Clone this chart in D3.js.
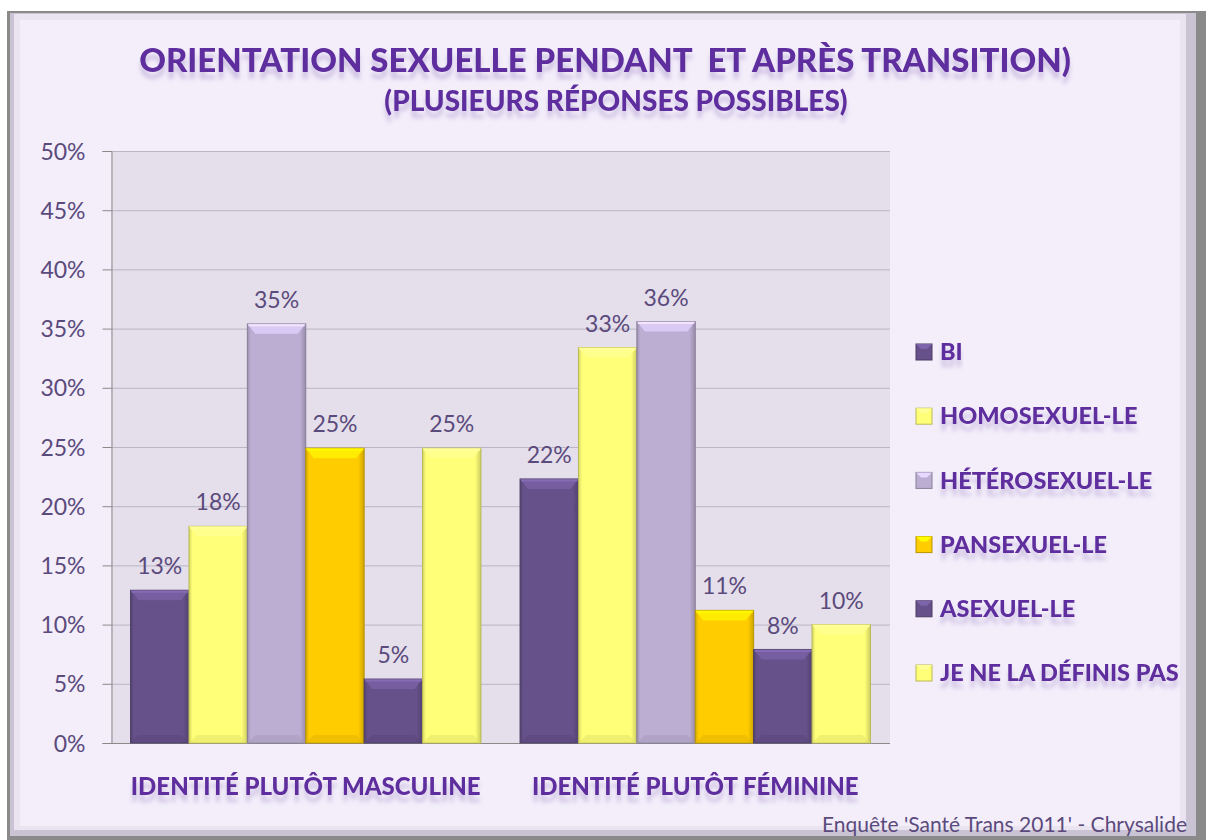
<!DOCTYPE html>
<html>
<head>
<meta charset="utf-8">
<script src="https://cdn.jsdelivr.net/npm/d3@7"></script>
<style>
  body { margin: 0; background: #fff; }
  svg { display: block; }
  text { white-space: pre; }
</style>
</head>
<body>
<div id="chart"></div>
<script>
// Data
const categories = ['IDENTITÉ PLUTÔT MASCULINE', 'IDENTITÉ PLUTÔT FÉMININE'];
const seriesNames = ['BI', 'HOMOSEXUEL-LE', 'HÉTÉROSEXUEL-LE', 'PANSEXUEL-LE', 'ASEXUEL-LE', 'JE NE LA DÉFINIS PAS'];
const seriesColors = ['#66518a', '#ffff78', '#bcaed3', '#ffcc00', '#66518a', '#ffff78'];
const biValues = [12.9, 22.3];
const homoValues = [18.3, 33.4];
const heteroValues = [35.4, 35.6];
const panValues = [24.9, 11.2];
const asexValues = [5.4, 7.9];
const nonDefValues = [24.9, 10.0];
const yTicks = [0, 5, 10, 15, 20, 25, 30, 35, 40, 45, 50];

const series = [biValues, homoValues, heteroValues, panValues, asexValues, nonDefValues];

const W = 1209, H = 840;
const plot = { left: 111, right: 890, top: 151, bottom: 743 };
const purple = '#5f2d9e';
const labelColor = '#5b4a7c';
const fontFam = 'Lato, "Open Sans", sans-serif';

const svg = d3.select('#chart').append('svg')
  .attr('width', W).attr('height', H);

const defs = svg.append('defs');

// soft reflection-like shadow for the bold texts
const refl = defs.append('filter').attr('id', 'refl')
  .attr('x', '-5%').attr('y', '-20%').attr('width', '110%').attr('height', '180%');
refl.append('feGaussianBlur').attr('in', 'SourceAlpha').attr('stdDeviation', 2.2).attr('result', 'b');
refl.append('feOffset').attr('in', 'b').attr('dy', 7).attr('result', 'o');
refl.append('feFlood').attr('flood-color', '#8d6fb8').attr('flood-opacity', 0.35);
refl.append('feComposite').attr('in2', 'o').attr('operator', 'in').attr('result', 's');
const m = refl.append('feMerge');
m.append('feMergeNode').attr('in', 's');
m.append('feMergeNode').attr('in', 'SourceGraphic');

// frame
svg.append('rect').attr('x', 0).attr('y', 0).attr('width', W).attr('height', H).attr('fill', '#ffffff');
svg.append('rect').attr('x', 7).attr('y', 11).attr('width', 1199).attr('height', 829)
  .attr('fill', '#8a8a8a');
svg.append('rect').attr('x', 10).attr('y', 13).attr('width', 1186).attr('height', 823)
  .attr('fill', '#c9c3d3');
svg.append('rect').attr('x', 14).attr('y', 14).attr('width', 1172).attr('height', 816)
  .attr('fill', '#e9e4f0');
svg.append('rect').attr('x', 20).attr('y', 20).attr('width', 1160).attr('height', 806)
  .attr('fill', '#f3eefa');

// scales
const x0 = d3.scaleBand().domain(categories).range([plot.left, plot.right]).padding(0);
const x1 = d3.scaleBand().domain(seriesNames).range([0, x0.bandwidth()])
  .paddingInner(0).paddingOuter(0.335);
const y = d3.scaleLinear().domain([0, 50]).range([plot.bottom, plot.top]);

// plot area
svg.append('rect')
  .attr('x', plot.left).attr('y', plot.top)
  .attr('width', plot.right - plot.left).attr('height', plot.bottom - plot.top)
  .attr('fill', '#e4dfeb');

// grid
svg.append('g').selectAll('line').data(yTicks.filter(d => d > 0)).join('line')
  .attr('x1', plot.left).attr('x2', plot.right)
  .attr('y1', d => y(d) + 0.5).attr('y2', d => y(d) + 0.5)
  .attr('stroke', '#bbb5c5').attr('stroke-width', 1);

// y axis
const yAxis = svg.append('g')
  .attr('transform', `translate(${plot.left + 0.5},0)`)
  .call(d3.axisLeft(y).tickValues(yTicks).tickSize(9).tickPadding(17).tickFormat(d => d + '%'));
yAxis.select('.domain').attr('stroke', '#8a8a8a');
yAxis.selectAll('.tick line').attr('stroke', '#8a8a8a');
yAxis.selectAll('.tick text')
  .attr('fill', labelColor).attr('font-family', fontFam)
  .attr('font-size', 23).attr('dy', '0.35em');

// x baseline
svg.append('line')
  .attr('x1', plot.left).attr('x2', plot.right)
  .attr('y1', plot.bottom + 0.5).attr('y2', plot.bottom + 0.5)
  .attr('stroke', '#8a8a8a');

// bar gradients per colour
function shade(c, k) { return d3.color(c).darker(k).formatHex(); }
function tint(c, k) { return d3.color(c).brighter(k).formatHex(); }
seriesColors.forEach((c, i) => {
  const g = defs.append('linearGradient').attr('id', 'bg' + i)
    .attr('x1', '0').attr('x2', '1').attr('y1', '0').attr('y2', '0');
  g.append('stop').attr('offset', '0%').attr('stop-color', shade(c, 0.5));
  g.append('stop').attr('offset', '6%').attr('stop-color', c);
  g.append('stop').attr('offset', '90%').attr('stop-color', c);
  g.append('stop').attr('offset', '100%').attr('stop-color', shade(c, 0.6));
});

const bars = svg.append('g');
categories.forEach((cat, ci) => {
  series.forEach((vals, si) => {
    const v = vals[ci];
    const bx = x0(cat) + x1(seriesNames[si]);
    const bw = x1.bandwidth();
    const by = y(v);
    const bh = plot.bottom - by;
    const c = seriesColors[si];
    const g = bars.append('g');
    g.append('rect').attr('x', bx).attr('y', by).attr('width', bw).attr('height', bh)
      .attr('fill', `url(#bg${si})`)
      .attr('stroke', shade(c, 0.9)).attr('stroke-width', 1);
    // top bevel
    const bev = Math.min(10, bh / 2);
    g.append('path')
      .attr('d', `M${bx},${by}L${bx + bw},${by}L${bx + bw - 8},${by + bev}L${bx + 8},${by + bev}Z`)
      .attr('fill', tint(c, 0.45)).attr('opacity', 0.9);
    g.append('rect').attr('x', bx + 1).attr('y', by + 0.5).attr('width', bw - 2).attr('height', 2)
      .attr('fill', tint(c, 0.9)).attr('opacity', 0.7);
    // bottom bevel
    g.append('path')
      .attr('d', `M${bx},${plot.bottom}L${bx + bw},${plot.bottom}L${bx + bw - 8},${plot.bottom - 8}L${bx + 8},${plot.bottom - 8}Z`)
      .attr('fill', shade(c, 0.35)).attr('opacity', 0.55);
    // value label
    bars.append('text')
      .attr('x', bx + bw / 2).attr('y', by - 24)
      .attr('text-anchor', 'middle').attr('dy', '0.35em')
      .attr('fill', labelColor).attr('font-family', fontFam).attr('font-size', 23)
      .text(Math.round(v) + '%');
  });
});

// category labels
svg.append('g').selectAll('text').data(categories).join('text')
  .attr('x', d => x0(d) + x0.bandwidth() / 2)
  .attr('y', 795)
  .attr('text-anchor', 'middle')
  .attr('fill', purple).attr('font-family', fontFam).attr('font-weight', 900)
  .attr('font-size', 24).attr('filter', 'url(#refl)')
  .text(d => d);

// title
svg.append('text').attr('x', 605).attr('y', 72).attr('text-anchor', 'middle')
  .attr('fill', purple).attr('font-family', fontFam).attr('font-weight', 900)
  .attr('font-size', 33).attr('filter', 'url(#refl)')
  .text('ORIENTATION SEXUELLE PENDANT  ET APRÈS TRANSITION)');
svg.append('text').attr('x', 616).attr('y', 111).attr('text-anchor', 'middle')
  .attr('fill', purple).attr('font-family', fontFam).attr('font-weight', 900)
  .attr('font-size', 28).attr('filter', 'url(#refl)')
  .text('(PLUSIEURS RÉPONSES POSSIBLES)');

// legend
const ly = d3.scalePoint().domain(seriesNames).range([352, 673]);
const leg = svg.append('g').selectAll('g').data(seriesNames).join('g')
  .attr('transform', d => `translate(916,${ly(d)})`);
leg.append('rect').attr('x', 0).attr('y', -8).attr('width', 16).attr('height', 16)
  .attr('fill', (d, i) => seriesColors[i])
  .attr('stroke', (d, i) => shade(seriesColors[i], 0.9));
leg.append('path').attr('d', 'M0,-8L16,-8L11,-3L5,-3Z')
  .attr('fill', (d, i) => tint(seriesColors[i], 0.6));
leg.append('text').attr('x', 24).attr('dy', '0.35em')
  .attr('fill', purple).attr('font-family', fontFam).attr('font-weight', 900)
  .attr('font-size', 23.5).attr('filter', 'url(#refl)')
  .text(d => d);

// source
svg.append('text').attr('x', 1187).attr('y', 832).attr('text-anchor', 'end')
  .attr('fill', labelColor).attr('font-family', fontFam).attr('font-size', 21)
  .text("Enquête 'Santé Trans 2011' - Chrysalide");
</script>
</body>
</html>
